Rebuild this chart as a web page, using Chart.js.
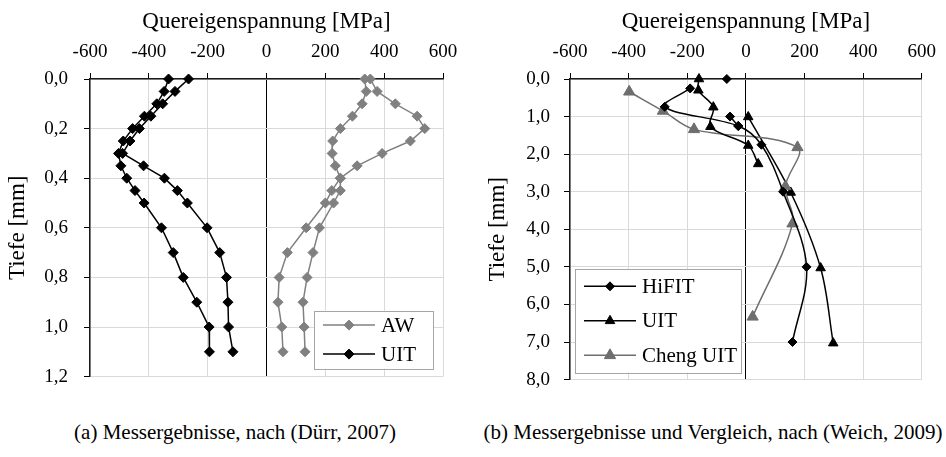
<!DOCTYPE html>
<html>
<head>
<meta charset="utf-8">
<script src="https://cdn.jsdelivr.net/npm/chart.js@4.4.1/dist/chart.umd.min.js"></script>
<style>
  body { margin: 0; background: #fff; width: 946px; height: 457px; overflow: hidden; position: relative; font-family: 'Liberation Serif', serif; }
  canvas { position: absolute; top: 0; }
  #chartA { left: 0; }
  #chartB { left: 480px; }
  .caption { position: absolute; top: 420px; font-size: 21px; color: #000; white-space: nowrap; transform: translateX(-50%); }
</style>
</head>
<body>
<canvas id="chartA" width="470" height="404"></canvas>
<canvas id="chartB" width="466" height="405"></canvas>
<div class="caption" style="left:235px">(a) Messergebnisse, nach (Dürr, 2007)</div>
<div class="caption" style="left:713px">(b) Messergebnisse und Vergleich, nach (Weich, 2009)</div>
<script>
// (a) Dürr 2007: depth [mm] vs. transverse residual stress [MPa], two profiles each
const depthA = [0.0, 0.05, 0.1, 0.15, 0.2, 0.25, 0.3, 0.35, 0.4, 0.45, 0.5, 0.6, 0.7, 0.8, 0.9, 1.0, 1.1];
const aw1 = [334, 339, 325, 292, 251, 225, 223, 234, 251, 222, 200, 135, 71, 43, 39, 52, 56];
const aw2 = [353, 376, 438, 512, 538, 489, 393, 308, 251, 251, 228, 180, 158, 138, 124, 128, 131];
const uit1 = [-333, -348, -373, -415, -455, -487, -503, -495, -475, -447, -416, -357, -317, -283, -237, -195, -194];
const uit2 = [-265, -311, -353, -393, -432, -464, -489, -418, -347, -303, -269, -202, -159, -136, -131, -129, -114];

// (b) Weich 2009
const hifitStress = [-190, -277, -26, 53, 127, 207, 159];
const hifitDepth = [0.25, 0.74, 1.25, 1.75, 3.0, 5.0, 7.0];
const hifitTopStress = [-65];
const hifitTopDepth = [0.0];
const hifitMidStress = [-54, -26];
const hifitMidDepth = [1.0, 1.25];
const uitStress = [-160, -162, -111, -121, 8, 42];
const uitDepth = [0.0, 0.3, 0.75, 1.27, 1.77, 2.26];
const uitDeepStress = [8, 153, 255, 298];
const uitDeepDepth = [1.01, 3.02, 5.03, 7.03];
const chengStress = [-398, -283, -177, 176, 135, 159, 23];
const chengDepth = [0.34, 0.85, 1.34, 1.82, 2.86, 3.85, 6.33];

const stressTicks = { min: -600, max: 600, step: 200 };
const depthTicksA = { max: 1.2, step: 0.2 };
const depthTicksB = { max: 8, step: 1 };

const BLACK = '#000000';
const GREY = '#808080';
const GREY_DARK = '#6e6e6e';
const FONT = "'Liberation Serif', serif";

Chart.defaults.font.family = FONT;
Chart.defaults.color = '#000';

function pts(xs, ys) {
    return xs.map((x, i) => ({ x: x, y: ys[i] }));
}

function series(data, color, style, radius, tension, legendLabel) {
    return {
        data: data,
        legendLabel: legendLabel,
        showLine: true,
        borderColor: color,
        backgroundColor: color,
        borderWidth: 1.5,
        pointStyle: style,
        pointRadius: radius,
        pointBackgroundColor: color,
        pointBorderColor: color,
        pointBorderWidth: 1,
        tension: tension,
        clip: false
    };
}

function drawMarker(ctx, ds, x, y) {
    ctx.fillStyle = ds.pointBackgroundColor;
    ctx.strokeStyle = ds.pointBorderColor;
    ctx.lineWidth = ds.pointBorderWidth;
    if (Chart.helpers && Chart.helpers.drawPoint) {
        Chart.helpers.drawPoint(ctx, { pointStyle: ds.pointStyle, radius: ds.pointRadius, rotation: 0, borderWidth: ds.pointBorderWidth }, x, y);
        return;
    }
    const r = ds.pointRadius;
    ctx.beginPath();
    if (ds.pointStyle === 'triangle') {
        ctx.moveTo(x, y - r);
        ctx.lineTo(x + r * 0.866, y + r / 2);
        ctx.lineTo(x - r * 0.866, y + r / 2);
    } else {
        ctx.moveTo(x, y - r);
        ctx.lineTo(x + r, y);
        ctx.lineTo(x, y + r);
        ctx.lineTo(x - r, y);
    }
    ctx.closePath();
    ctx.fill();
    ctx.stroke();
}

// legend box inside the plot area, one row per dataset that carries a legendLabel
const boxLegend = {
    id: 'boxLegend',
    afterDraw(chart, args, opts) {
        const ctx = chart.ctx;
        const area = chart.chartArea;
        const items = chart.data.datasets.filter(ds => ds.legendLabel);
        const w = opts.width;
        const h = opts.rowHeight * items.length;
        const left = opts.side === 'right' ? area.right - opts.offsetX - w : area.left + opts.offsetX;
        const top = area.bottom - opts.offsetY - h;
        ctx.save();
        ctx.fillStyle = '#fff';
        ctx.fillRect(left, top, w, h);
        ctx.strokeStyle = '#a6a6a6';
        ctx.lineWidth = 1;
        ctx.strokeRect(Math.round(left) + 0.5, Math.round(top) + 0.5, Math.round(w), Math.round(h));
        ctx.font = opts.fontSize + 'px ' + FONT;
        ctx.textBaseline = 'middle';
        items.forEach((ds, i) => {
            const y = top + opts.rowHeight * (i + 0.5);
            const x0 = left + 9;
            const x1 = x0 + 52;
            ctx.strokeStyle = ds.borderColor;
            ctx.lineWidth = ds.borderWidth;
            ctx.beginPath();
            ctx.moveTo(x0, y);
            ctx.lineTo(x1, y);
            ctx.stroke();
            drawMarker(ctx, ds, (x0 + x1) / 2, y);
            ctx.fillStyle = '#000';
            ctx.fillText(ds.legendLabel, x1 + 6, y + 1);
        });
        ctx.restore();
    }
};

function buildScales(depth, yLabelPad) {
    return {
        x: {
            type: 'linear',
            position: 'top',
            min: stressTicks.min,
            max: stressTicks.max,
            ticks: {
                stepSize: stressTicks.step,
                padding: 10,
                color: '#000',
                font: { family: FONT, size: 19 },
                callback: v => String(v)
            },
            grid: {
                color: c => (c.tick && c.tick.value === 0) ? '#000' : '#d9d9d9',
                lineWidth: 1,
                tickLength: 6,
                tickColor: '#000'
            },
            border: { color: '#1a1a1a', width: 1.5 },
            title: {
                display: true,
                text: 'Quereigenspannung [MPa]',
                color: '#000',
                font: { family: FONT, size: 23 },
                padding: { top: 8, bottom: 0 }
            },
            afterFit: s => { s.height = 79; }
        },
        y: {
            type: 'linear',
            reverse: true,
            min: 0,
            max: depth.max,
            ticks: {
                stepSize: depth.step,
                padding: yLabelPad,
                color: '#000',
                font: { family: FONT, size: 19 },
                callback: v => v.toFixed(1).replace('.', ',')
            },
            grid: {
                color: '#d9d9d9',
                lineWidth: 1,
                tickLength: 6,
                tickColor: '#000'
            },
            border: { color: '#1a1a1a', width: 1.5 },
            title: {
                display: true,
                text: 'Tiefe [mm]',
                color: '#000',
                font: { family: FONT, size: 23 },
                padding: { top: 4, bottom: 0 }
            },
            afterFit: s => { s.width = 90; }
        }
    };
}

function baseOptions(depth, yLabelPad, padRight, legend) {
    return {
        responsive: false,
        animation: false,
        layout: { padding: { top: 0, left: 0, right: padRight, bottom: 0 } },
        plugins: {
            legend: { display: false },
            tooltip: { enabled: false },
            boxLegend: legend
        },
        scales: buildScales(depth, yLabelPad)
    };
}

function drawCharts() {
    new Chart(document.getElementById('chartA'), {
        type: 'scatter',
        data: {
            datasets: [
                series(pts(aw1, depthA), GREY, 'rectRot', 5, 0, 'AW'),
                series(pts(aw2, depthA), GREY, 'rectRot', 5, 0),
                series(pts(uit1, depthA), BLACK, 'rectRot', 5, 0, 'UIT'),
                series(pts(uit2, depthA), BLACK, 'rectRot', 5, 0)
            ]
        },
        options: baseOptions(depthTicksA, 16, 27, { side: 'right', offsetX: 10, offsetY: 8, width: 119, rowHeight: 29, fontSize: 21 }),
        plugins: [boxLegend]
    });

    new Chart(document.getElementById('chartB'), {
        type: 'scatter',
        data: {
            datasets: [
                series(pts(hifitStress, hifitDepth), BLACK, 'rectRot', 4.5, 0.35, 'HiFIT'),
                series(pts(uitStress, uitDepth), BLACK, 'triangle', 5.5, 0.35, 'UIT'),
                series(pts(chengStress, chengDepth), GREY_DARK, 'triangle', 6.5, 0.35, 'Cheng UIT'),
                series(pts(hifitTopStress, hifitTopDepth), BLACK, 'rectRot', 4.5, 0.35),
                series(pts(hifitMidStress, hifitMidDepth), BLACK, 'rectRot', 4.5, 0.35),
                series(pts(uitDeepStress, uitDeepDepth), BLACK, 'triangle', 5.5, 0.35)
            ]
        },
        options: baseOptions(depthTicksB, 14, 24, { side: 'left', offsetX: 5, offsetY: 7, width: 166, rowHeight: 34.5, fontSize: 21 }),
        plugins: [boxLegend]
    });
}

// make sure the serif face is ready before the canvases paint text
Promise.all([
    document.fonts.load("19px 'Liberation Serif'"),
    document.fonts.load("23px 'Liberation Serif'")
]).then(drawCharts, drawCharts);
</script>
</body>
</html>
